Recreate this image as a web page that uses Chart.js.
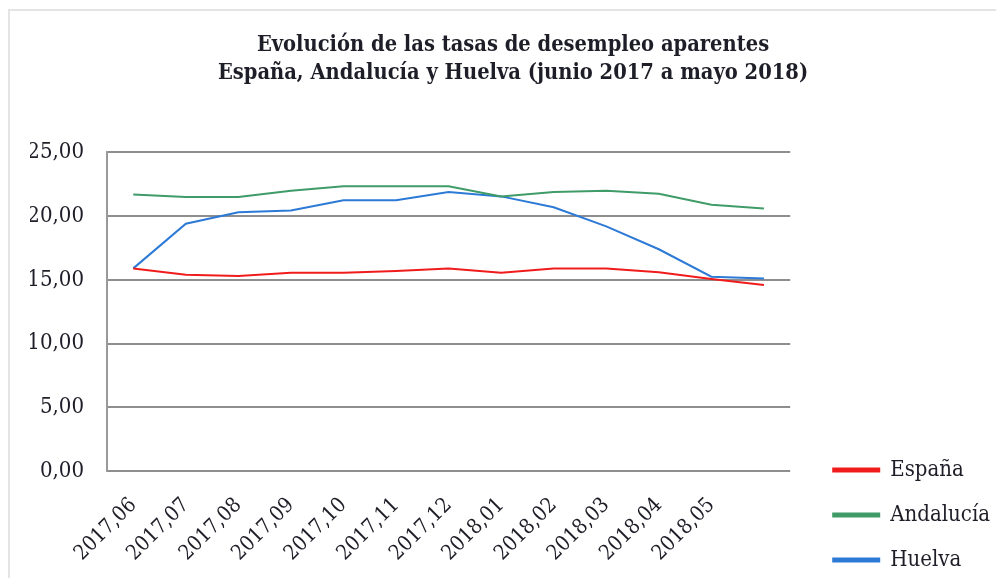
<!DOCTYPE html>
<html>
<head>
<meta charset="utf-8">
<script src="https://cdn.jsdelivr.net/npm/chart.js@4"></script>
<style>
    body { margin: 0; background: #fff; }
    #frame { position: absolute; left: 8px; top: 9px; width: 988px; height: 569px; border-top: 2px solid #e4e4e4; border-left: 2px solid #e4e4e4; }
    #chart { position: absolute; left: 0; top: 0; }
</style>
</head>
<body>
<div id="frame"></div>
<canvas id="chart" width="996" height="578"></canvas>
<script>
const months = ['2017,06', '2017,07', '2017,08', '2017,09', '2017,10', '2017,11', '2017,12',
    '2018,01', '2018,02', '2018,03', '2018,04', '2018,05', ''];
const espana = [15.9, 15.4, 15.3, 15.55, 15.55, 15.7, 15.9, 15.55, 15.9, 15.9, 15.6, 15.07, 14.6];
const andalucia = [21.7, 21.5, 21.5, 22.0, 22.35, 22.35, 22.35, 21.55, 21.9, 22.0, 21.75, 20.9, 20.6];
const huelva = [15.9, 19.4, 20.3, 20.45, 21.25, 21.25, 21.9, 21.55, 20.7, 19.2, 17.4, 15.25, 15.1];
const titleLines = ['Evolución de las tasas de desempleo aparentes',
    'España, Andalucía y Huelva (junio 2017 a mayo 2018)'];

const serif = "'DejaVu Serif Condensed', 'Liberation Serif', serif";
const textColor = '#1e1e28';

function line(label, data, color) {
    return {
        label: label,
        data: data,
        borderColor: color,
        backgroundColor: color,
        borderWidth: 2,
        pointRadius: 0,
        tension: 0
    };
}

// nudge legend away from the plot and the title a little to the right
const nudge = {
    id: 'nudge',
    afterLayout(chart) {
        chart.legend.left += 20;
        chart.legend.right += 20;
        chart.titleBlock.left += 8;
        chart.titleBlock.right += 8;
    }
};

new Chart(document.getElementById('chart'), {
    type: 'line',
    data: {
        labels: months,
        datasets: [
            line('España', espana, '#f01c1c'),
            line('Andalucía', andalucia, '#3f9b67'),
            line('Huelva', huelva, '#2c7ad6')
        ]
    },
    plugins: [nudge],
    options: {
        responsive: false,
        animation: false,
        layout: { padding: { left: 30, right: 16, top: 0, bottom: -16 } },
        plugins: {
            title: {
                display: true,
                text: titleLines,
                color: textColor,
                font: { family: serif, size: 21.7, weight: 'bold', lineHeight: 1.3 },
                padding: { top: 31, bottom: 65 }
            },
            legend: {
                position: 'right',
                align: 'end',
                labels: {
                    color: textColor,
                    font: { family: serif, size: 22 },
                    boxWidth: 46,
                    boxHeight: 3,
                    padding: 23
                }
            },
            tooltip: { enabled: false }
        },
        scales: {
            x: {
                offset: true,
                grid: { display: false },
                border: { display: false },
                ticks: {
                    autoSkip: false,
                    minRotation: 45,
                    maxRotation: 45,
                    padding: 14,
                    color: textColor,
                    font: { family: serif, size: 21 }
                },
                afterFit: s => { s.height = 123; }
            },
            y: {
                min: 0,
                max: 25,
                grid: { color: '#8e8e8e', lineWidth: 2, drawTicks: false },
                border: { display: true, color: '#9a9a9a', width: 2 },
                ticks: {
                    stepSize: 5,
                    padding: 23,
                    color: textColor,
                    font: { family: serif, size: 22 },
                    callback: v => v.toFixed(2).replace('.', ',')
                },
                afterFit: s => { s.width = 77; }
            }
        }
    }
});
</script>
</body>
</html>
